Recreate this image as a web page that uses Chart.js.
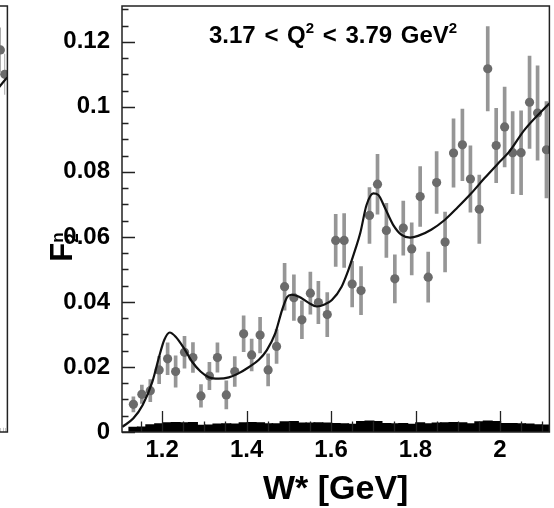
<!DOCTYPE html>
<html>
<head>
<meta charset="utf-8">
<script src="https://cdn.jsdelivr.net/npm/chart.js@4/dist/chart.umd.min.js"></script>
<style>
  html, body { margin: 0; padding: 0; background: #fff; }
  #wrap { position: relative; width: 554px; height: 508px; overflow: hidden; font-family: 'Liberation Sans', Arial, sans-serif; }
  canvas { position: absolute; top: 0; }
  #main { left: 0; }
  #prev { left: -50px; }
  #qlabel { position: absolute; left: 209px; top: 23px; font-weight: bold; font-size: 24px; line-height: 24px; white-space: pre; word-spacing: 2px; color: #000; }
  #qlabel .sup { font-size: 15px; position: relative; top: -10px; }
  #ytitle { position: absolute; left: 42px; top: 229px; width: 40px; height: 36px; transform: rotate(-90deg); font-weight: bold; font-size: 31px; line-height: 36px; text-align: center; color: #000; }
  #ytitle .st { display: inline-block; font-size: 17px; line-height: 15px; vertical-align: -6px; text-align: left; }
</style>
</head>
<body>
<div id="wrap">
  <canvas id="prev" width="62" height="508"></canvas>
  <canvas id="main" width="554" height="508"></canvas>
  <div id="qlabel">3.17 &lt; Q<span class="sup">2</span> &lt; 3.79 GeV<span class="sup">2</span></div>
  <div id="ytitle">F<span class="st">n<br>2</span></div>
</div>
<script>
// W* bins of the measured points
const wStar = [1.132, 1.152, 1.172, 1.193, 1.213, 1.232, 1.253, 1.273, 1.292, 1.312,
  1.331, 1.352, 1.372, 1.393, 1.412, 1.432, 1.451, 1.471, 1.490, 1.512,
  1.531, 1.551, 1.570, 1.591, 1.611, 1.631, 1.650, 1.671, 1.691, 1.710,
  1.731, 1.751, 1.771, 1.791, 1.811, 1.830, 1.850, 1.870, 1.890, 1.911,
  1.930, 1.951, 1.971, 1.991, 2.011, 2.030, 2.050, 2.070, 2.089, 2.110];
// F2n values and their statistical errors
const f2n = [0.0085, 0.0116, 0.0127, 0.0191, 0.0225, 0.0186, 0.0245, 0.0229, 0.0111, 0.0172,
  0.0229, 0.0114, 0.0186, 0.0302, 0.0237, 0.0298, 0.0191, 0.0263, 0.0447, 0.0413,
  0.0345, 0.0427, 0.0398, 0.0361, 0.0589, 0.0589, 0.0455, 0.0435, 0.0666, 0.0762,
  0.0620, 0.0471, 0.0627, 0.0563, 0.0724, 0.0476, 0.0767, 0.0584, 0.0858, 0.0883,
  0.0778, 0.0685, 0.1117, 0.0881, 0.0938, 0.0859, 0.0859, 0.1014, 0.0981, 0.0868];
const f2nErr = [0.0023, 0.0028, 0.0034, 0.0042, 0.0049, 0.0048, 0.0049, 0.0046, 0.0035, 0.0042,
  0.0045, 0.0043, 0.0046, 0.0055, 0.0049, 0.0055, 0.0049, 0.0052, 0.0072, 0.0070,
  0.0058, 0.0065, 0.0065, 0.0068, 0.0080, 0.0083, 0.0070, 0.0074, 0.0086, 0.0092,
  0.0083, 0.0074, 0.0083, 0.0080, 0.0092, 0.0077, 0.0095, 0.0092, 0.0105, 0.0110,
  0.0102, 0.0105, 0.0130, 0.0114, 0.0123, 0.0126, 0.0129, 0.0142, 0.0145, 0.0148];
// systematic error band along the bottom
const sysErr = [0.0016, 0.0017, 0.0024, 0.0027, 0.0030, 0.0031, 0.0030, 0.0031, 0.0022, 0.0023,
  0.0026, 0.0027, 0.0026, 0.0030, 0.0031, 0.0030, 0.0027, 0.0027, 0.0033, 0.0034,
  0.0029, 0.0029, 0.0030, 0.0029, 0.0028, 0.0027, 0.0025, 0.0034, 0.0035, 0.0034,
  0.0028, 0.0027, 0.0028, 0.0025, 0.0030, 0.0027, 0.0029, 0.0030, 0.0031, 0.0030,
  0.0027, 0.0033, 0.0035, 0.0034, 0.0028, 0.0028, 0.0027, 0.0026, 0.0024, 0.0023];
// model curve
const fitW = [1.106, 1.132, 1.154, 1.177, 1.193, 1.205, 1.218, 1.232, 1.252, 1.271,
  1.291, 1.311, 1.334, 1.358, 1.382, 1.405, 1.429, 1.448, 1.468, 1.484,
  1.496, 1.506, 1.523, 1.547, 1.566, 1.586, 1.602, 1.625, 1.641, 1.657,
  1.669, 1.684, 1.700, 1.712, 1.728, 1.747, 1.767, 1.787, 1.806, 1.837,
  1.869, 1.900, 1.932, 1.963, 1.995, 2.022, 2.058, 2.117];
const fitF2 = [0.0016, 0.0042, 0.0083, 0.0155, 0.0232, 0.0283, 0.0306, 0.0293, 0.0257, 0.0216,
  0.0186, 0.0168, 0.0164, 0.0168, 0.0181, 0.0199, 0.0222, 0.0252, 0.0304, 0.0375,
  0.0415, 0.0422, 0.0417, 0.0397, 0.0386, 0.0393, 0.0406, 0.0447, 0.0498, 0.0560,
  0.0611, 0.0698, 0.0734, 0.0729, 0.0688, 0.0637, 0.0606, 0.0598, 0.0603, 0.0622,
  0.0652, 0.0691, 0.0734, 0.0780, 0.0825, 0.0862, 0.0929, 0.1011];

// neighbouring panel (only its right edge is in view)
const prevW = [0.867, 0.95];
const prevF2 = [0.1175, 0.110];
const prevErr = [0.0068, 0.0062];
const prevFitW = [0.6, 0.833, 0.93, 1.0];
const prevFit = [0.100, 0.1058, 0.1078, 0.1090];
const prevSysW = [0.72, 0.77, 0.82, 0.87, 0.92, 0.97];
const prevSys = [0.0013, 0.0012, 0.0013, 0.0012, 0.0013, 0.0012];

const yMax = 0.131;
const tickFont = { family: "'Liberation Sans', Arial, sans-serif", size: 24, weight: 'bold' };

// frame around the plot plus ROOT-style ticks pointing inwards
const frameTicks = {
  id: 'frameTicks',
  afterDraw(chart, args, opts) {
    const { ctx, chartArea: a, scales } = chart;
    ctx.save();
    ctx.strokeStyle = '#222';
    if (opts.ticks) {
      ctx.lineWidth = 1.3;
      ctx.beginPath();
      for (let i = 0; i * 0.005 <= yMax; i++) {
        const py = Math.round(scales.y.getPixelForValue(i * 0.005)) + 0.5;
        const len = i % 4 === 0 ? 13 : 6.5;
        ctx.moveTo(a.left, py);
        ctx.lineTo(a.left + len, py);
      }
      for (let i = 23; i <= 42; i++) {
        const px = Math.round(scales.x.getPixelForValue(i * 0.05)) + 0.5;
        const len = i % 4 === 0 ? 21 : 10.5;
        ctx.moveTo(px, a.bottom);
        ctx.lineTo(px, a.bottom - len);
      }
      ctx.stroke();
    }
    ctx.lineWidth = 1.5;
    ctx.strokeRect(a.left, a.top, a.right - a.left, a.bottom - a.top);
    ctx.restore();
  }
};

function pts(xs, ys) { return xs.map((x, i) => ({ x: x, y: ys[i] })); }
function bars(xs, ys, es) { return xs.map((x, i) => ({ x: x, y: [ys[i] - es[i], ys[i] + es[i]] })); }
function sysBars(xs, ys) { return xs.map((x, i) => ({ x: x, y: [0, ys[i]] })); }

function datasets(w, f, e, fw, ff, sw, se) {
  return [
    { type: 'line', data: pts(fw, ff), borderColor: '#111', borderWidth: 2.2, pointRadius: 0,
      cubicInterpolationMode: 'monotone', fill: false },
    { type: 'scatter', data: pts(w, f), pointRadius: 4.6, backgroundColor: '#6b6b6b', borderWidth: 0 },
    { type: 'bar', data: bars(w, f, e), backgroundColor: '#969696', borderWidth: 0,
      grouped: false, maxBarThickness: 3, barPercentage: 1, categoryPercentage: 1 },
    { type: 'bar', data: sysBars(sw, se), backgroundColor: '#000', borderWidth: 0,
      grouped: false, maxBarThickness: 10, barPercentage: 1.4, categoryPercentage: 1 }
  ];
}

const shortLabel = v => String(parseFloat(v.toFixed(3)));

new Chart(document.getElementById('main'), {
  type: 'scatter',
  data: { datasets: datasets(wStar, f2n, f2nErr, fitW, fitF2, wStar, sysErr) },
  options: {
    responsive: false,
    animation: false,
    events: [],
    layout: { padding: { top: 6, right: 2, left: 0, bottom: 0 } },
    plugins: { legend: { display: false }, tooltip: { enabled: false }, frameTicks: { ticks: true } },
    scales: {
      x: {
        type: 'linear', min: 1.105, max: 2.117, offset: false,
        grid: { display: false, offset: false },
        border: { display: false },
        ticks: { stepSize: 0.2, includeBounds: false, color: '#000', font: tickFont, padding: -4,
          maxRotation: 0, callback: shortLabel },
        title: { display: true, text: 'W* [GeV]', color: '#000', padding: { top: 0, bottom: -2 },
          font: { family: "'Liberation Sans', Arial, sans-serif", size: 34, weight: 'bold' } },
        afterFit: s => { s.height = 76; s.paddingLeft = 0; s.paddingRight = 0; }
      },
      y: {
        type: 'linear', min: 0, max: yMax,
        grid: { display: false },
        border: { display: false },
        ticks: { stepSize: 0.02, includeBounds: false, color: '#000', font: tickFont, padding: 4,
          callback: shortLabel },
        afterFit: s => { s.width = 122; s.paddingTop = 0; s.paddingBottom = 0; }
      }
    }
  },
  plugins: [frameTicks]
});

new Chart(document.getElementById('prev'), {
  type: 'scatter',
  data: { datasets: datasets(prevW, prevF2, prevErr, prevFitW, prevFit, prevSysW, prevSys) },
  options: {
    responsive: false,
    animation: false,
    events: [],
    layout: { padding: { top: 6, right: 2, left: 0, bottom: 76 } },
    plugins: { legend: { display: false }, tooltip: { enabled: false }, frameTicks: { ticks: false } },
    scales: {
      x: { type: 'linear', min: 0, max: 1, offset: false, display: false },
      y: { type: 'linear', min: 0, max: yMax, display: false }
    }
  },
  plugins: [frameTicks]
});
</script>
</body>
</html>
